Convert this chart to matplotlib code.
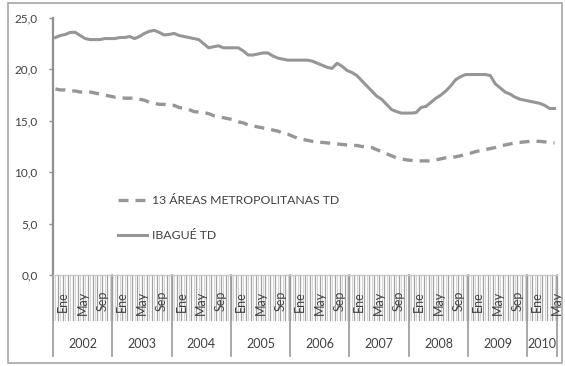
import matplotlib
matplotlib.use("Agg")
import matplotlib.pyplot as plt
from matplotlib.patches import Rectangle
from matplotlib.ticker import FuncFormatter
import matplotlib.transforms as mtransforms

plt.rcParams['font.family'] = ['Lato', 'DejaVu Sans']

# Tasas de desempleo mensuales (trimestre móvil), ene-2002 a jun-2010
years = [2002, 2003, 2004, 2005, 2006, 2007, 2008, 2009, 2010]
months_per_year = [12, 12, 12, 12, 12, 12, 12, 12, 6]
month_labels = ['Ene', 'May', 'Sep']
label_months = [1.5, 5.5, 9.5]

ibague_td = [
    23.1, 23.3, 23.4, 23.6, 23.6, 23.3, 23.0, 22.9, 22.9, 22.9, 23.0, 23.0,
    23.0, 23.1, 23.1, 23.2, 23.0, 23.2, 23.5, 23.7, 23.8, 23.6, 23.35, 23.4,
    23.5, 23.3, 23.2, 23.1, 23.0, 22.9, 22.5, 22.1, 22.2, 22.3, 22.1, 22.1,
    22.1, 22.1, 21.8, 21.4, 21.4, 21.5, 21.6, 21.6, 21.3, 21.1, 21.0, 20.9,
    20.9, 20.9, 20.9, 20.9, 20.8, 20.6, 20.4, 20.2, 20.1, 20.6, 20.3, 19.9,
    19.7, 19.4, 18.9, 18.4, 17.9, 17.4, 17.1, 16.6, 16.1, 15.9, 15.75, 15.75,
    15.75, 15.8, 16.3, 16.4, 16.8, 17.2, 17.5, 17.9, 18.4, 19.0, 19.3, 19.5,
    19.5, 19.5, 19.5, 19.5, 19.4, 18.6, 18.2, 17.8, 17.6, 17.3, 17.1, 17.0,
    16.9, 16.8, 16.7, 16.5, 16.2, 16.2,
]
areas13_td = [
    18.1, 18.0, 18.0, 17.9, 17.9, 17.8, 17.8, 17.8, 17.7, 17.6, 17.5, 17.4,
    17.3, 17.3, 17.2, 17.2, 17.2, 17.1, 17.0, 16.8, 16.7, 16.6, 16.6, 16.5,
    16.5, 16.3, 16.2, 16.1, 15.9, 15.85, 15.8, 15.7, 15.5, 15.4, 15.3, 15.2,
    15.1, 14.9, 14.8, 14.6, 14.5, 14.4, 14.3, 14.2, 14.1, 14.0, 13.8, 13.7,
    13.5, 13.3, 13.2, 13.1, 13.0, 12.9, 12.9, 12.85, 12.8, 12.75, 12.7, 12.65,
    12.6, 12.6, 12.5, 12.45, 12.4, 12.2, 12.0, 11.8, 11.6, 11.4, 11.3, 11.2,
    11.15, 11.1, 11.1, 11.1, 11.1, 11.2, 11.3, 11.4, 11.45, 11.5, 11.6, 11.75,
    11.85, 12.0, 12.1, 12.2, 12.3, 12.4, 12.55, 12.65, 12.75, 12.85, 12.9, 12.95,
    13.0, 13.0, 13.0, 12.95, 12.9, 12.85,
]

W, H = 565, 366
fig = plt.figure(figsize=(W / 100, H / 100), dpi=100)
fig.patch.set_facecolor('white')

# area de trazado en pixeles
x0, x1, ytop, ybot = 53, 557, 18, 275
ax = fig.add_axes([x0 / W, 1 - ybot / H, (x1 - x0) / W, (ybot - ytop) / H])

text_col = '#404040'
line_col = '#969696'
n = len(ibague_td)
x = list(range(n))

ax.plot(x, areas13_td, color=line_col, lw=2.4, dashes=(3, 2.1),
        solid_capstyle='butt', label='13 ÁREAS METROPOLITANAS TD')
ax.plot(x, ibague_td, color=line_col, lw=2.2, label='IBAGUÉ TD')

ax.set_xlim(-0.5, n - 0.5)
ax.set_ylim(0, 25)
ax.set_yticks([0, 5, 10, 15, 20, 25])
ax.yaxis.set_major_formatter(FuncFormatter(lambda v, p: f'{v:.1f}'.replace('.', ',')))
ax.tick_params(axis='y', direction='out', length=3, width=1, color='#909090',
               labelsize=8.5, labelcolor=text_col, pad=8)
ax.tick_params(axis='x', bottom=False, labelbottom=False)
for s in ['top', 'right']:
    ax.spines[s].set_visible(False)
ax.spines['left'].set_color('#909090')
ax.spines['left'].set_linewidth(1.6)
ax.spines['bottom'].set_color('#c8c8c8')
ax.spines['bottom'].set_linewidth(1)

# eje de categorias de dos niveles (mes / año)
trans = mtransforms.blended_transform_factory(ax.transData, ax.transAxes)
hpx = ybot - ytop


def ax_y(py):
    return -(py - ybot) / hpx


start = 0
for yr, nm in zip(years, months_per_year):
    for k in range(nm + 1):
        ax.plot([start + k - 0.5] * 2, [0, ax_y(320)], transform=trans,
                color='#a0a0a0', lw=0.9, clip_on=False)
        if k < nm:
            ax.plot([start + k] * 2, [0, ax_y(320)], transform=trans,
                    color='#d4d4d4', lw=0.7, clip_on=False)
    for lab, pos in zip(month_labels, label_months):
        if pos < nm:
            ax.text(start + pos, ax_y(291), lab, transform=trans, rotation=90,
                    ha='center', va='top', fontsize=9, color=text_col)
    ax.text(start + (nm - 1) / 2, ax_y(344), str(yr), transform=trans,
            ha='center', va='center', fontsize=9, color=text_col)
    start += nm

bounds = [-0.5]
for nm in months_per_year:
    bounds.append(bounds[-1] + nm)
for b in bounds:
    ax.plot([b, b], [0, ax_y(356)], transform=trans, color='#9a9a9a',
            lw=1.2, clip_on=False)

leg = ax.legend(loc='upper left', bbox_to_anchor=((118 - x0) / (x1 - x0), ax_y(195)),
                frameon=False, fontsize=8.8, handlelength=2.4, handletextpad=0.4,
                labelspacing=2.0, borderpad=0, borderaxespad=0)
for t in leg.get_texts():
    t.set_color(text_col)

# marco exterior del grafico
fig.patches.append(Rectangle((8 / W, 3 / H), (562 - 8) / W, (363 - 3) / H,
                             transform=fig.transFigure, fill=False,
                             edgecolor='#a6a6a6', lw=1.2))

fig.savefig('out.png', dpi=100)
